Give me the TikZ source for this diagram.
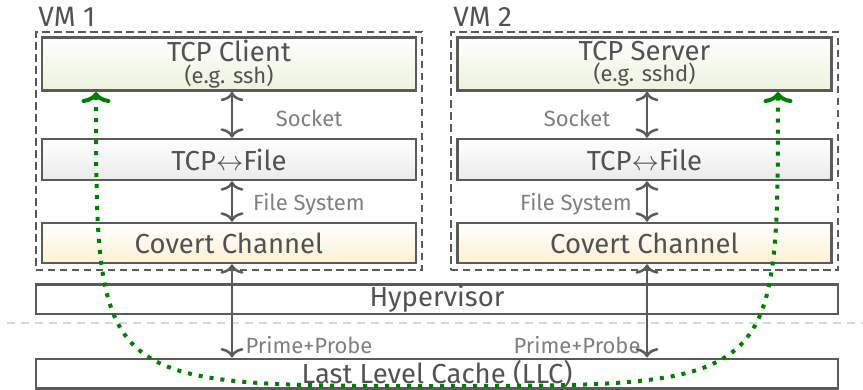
\documentclass[tikz,border=0pt]{standalone}
\usepackage{fontspec}
\setmainfont{Fira Sans}
\usepackage{xcolor}
\usepackage{tikz}
\usetikzlibrary{arrows.meta}

\definecolor{boxgray}{HTML}{5A5A5A}
\definecolor{textgray}{HTML}{525252}
\definecolor{labelgray}{HTML}{7F7F7F}
\definecolor{appgreen}{HTML}{ECF2DD}
\definecolor{chanyellow}{HTML}{FCF0D4}
\definecolor{filegray}{HTML}{EAEAEA}
\definecolor{sepgray}{HTML}{D9D9D9}
\definecolor{leakgreen}{HTML}{008000}

\tikzset{
  layer/.style={draw=boxgray, line width=1pt, inner sep=0pt, text=textgray,
    font=\fontsize{11}{12}\selectfont},
  applayer/.style={layer, minimum width=149.6pt, minimum height=21.2pt, align=center,
    top color=white, bottom color=appgreen},
  filelayer/.style={layer, minimum width=149.6pt, minimum height=16.4pt,
    top color=white, bottom color=filegray},
  chanlayer/.style={layer, minimum width=149.6pt, minimum height=16pt,
    top color=white, bottom color=chanyellow},
  hostlayer/.style={layer, minimum width=320.8pt, minimum height=11.8pt},
  vmframe/.style={draw=boxgray, line width=1pt, dash pattern=on 3pt off 1.8pt,
    minimum height=95.2pt, inner sep=0pt},
  vmname/.style={anchor=base west, inner sep=0pt, text=textgray,
    font=\fontsize{11.2}{13}\selectfont},
  linkname/.style={anchor=base, inner sep=0pt, text=labelgray,
    font=\fontsize{8.8}{10}\selectfont},
  flow/.style={draw=boxgray, line width=1pt, <->},
  leaktip/.tip={Computer Modern Rightarrow[width=11.6pt,length=4.4pt]},
  leak/.style={draw=leakgreen, line width=1.6pt, dash pattern=on 1.6pt off 2.8pt,
    arrows={leaktip-leaktip}},
  sepline/.style={draw=sepgray, line width=0.9pt, dash pattern=on 3.2pt off 2.4pt}
}

\begin{document}
\begin{tikzpicture}[x=0.4pt,y=-0.4pt,>={Computer Modern Rightarrow[width=9.2pt,length=3.8pt]}]
\useasboundingbox (0,0) rectangle (863,389);

% the two virtual machines
\node[vmframe, minimum width=154.4pt] (vm1) at (229,151) {};
\node[vmframe, minimum width=154.8pt] (vm2) at (644.5,151) {};
\node[vmname] (vm1name) at (38,26) {VM 1};
\node[vmname] (vm2name) at (453,26) {VM 2};

\node[applayer] (client) at (229,64) {TCP Client\\[-3.5pt]{\fontsize{8.8}{9}\selectfont (e.g. ssh)}};
\node[applayer] (server) at (644.5,64) {TCP Server\\[-3.5pt]{\fontsize{8.8}{9}\selectfont (e.g. sshd)}};
\node[filelayer] (tcpL) at (229,159.5) {TCP$\leftrightarrow$File};
\node[filelayer] (tcpR) at (644.5,159.5) {TCP$\leftrightarrow$File};
\node[chanlayer] (chanL) at (229,243) {Covert Channel};
\node[chanlayer] (chanR) at (644.5,243) {Covert Channel};

% host side
\node[hostlayer] (hyper) at (437,299) {Hypervisor};
\node[hostlayer] (llc) at (437,373.5) {Last Level Cache (LLC)};
\draw[sepline] (7,323) -- (863,323);

% vertical links
\coordinate (axL) at (232,0);
\coordinate (axR) at (647,0);
\draw[flow] (client.south -| axL) -- (tcpL.north -| axL);
\draw[flow] (tcpL.south -| axL) -- (chanL.north -| axL);
\draw[flow] (chanL.south -| axL) -- (llc.north -| axL);
\draw[flow] (server.south -| axR) -- (tcpR.north -| axR);
\draw[flow] (tcpR.south -| axR) -- (chanR.north -| axR);
\draw[flow] (chanR.south -| axR) -- (llc.north -| axR);

\node[linkname] (sockL) at (309,126) {Socket};
\node[linkname] (fsL) at (309,210) {File System};
\node[linkname] (ppL) at (309,353) {Prime+Probe};
\node[linkname] (sockR) at (577,126) {Socket};
\node[linkname] (fsR) at (576,210) {File System};
\node[linkname] (ppR) at (577,353) {Prime+Probe};

% end-to-end channel
\coordinate (leakL) at (96,92);
\coordinate (leakR) at (778,92);
\draw[leak] (leakL) .. controls (96,386) .. (437,386) .. controls (778,386) .. (leakR);
\end{tikzpicture}
\end{document}
